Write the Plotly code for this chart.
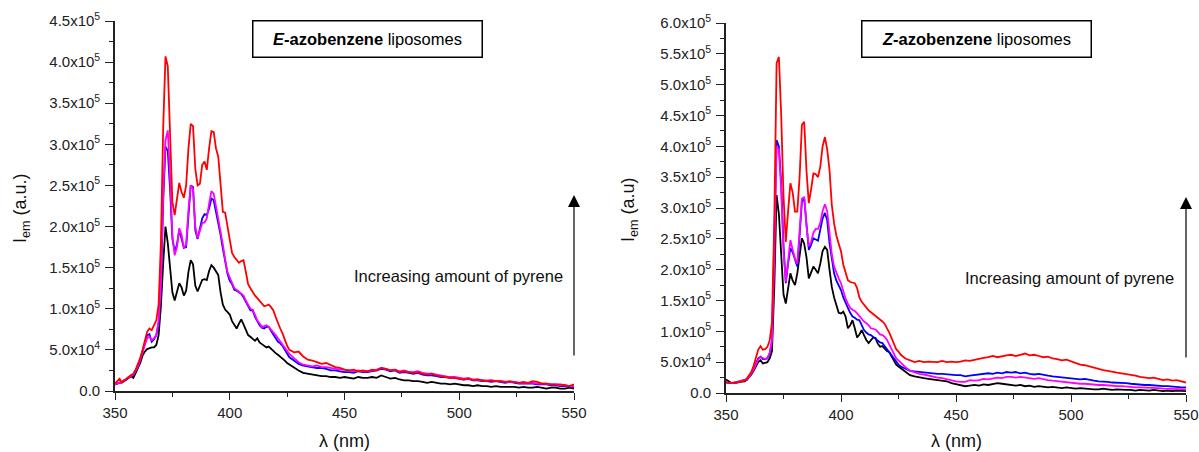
import plotly.graph_objects as go

# Wavelength grid (nm)
WAVE = list(range(350, 427)) + list(range(428, 551, 2))

# ---- E-azobenzene liposomes (values in 1e4 a.u.) ----
E_RED = [0.9, 1.2, 1.5, 1.0, 1.3, 1.5, 1.7, 1.9, 2.1, 2.6, 3.2, 4.0, 5.0, 6.2, 7.2, 7.6, 7.4, 8.0, 8.6, 10.5,
         18.0, 32.0, 40.7, 39.5, 31.0, 23.0, 21.4, 23.5, 25.3, 24.2, 23.5, 25.0, 29.5, 32.5, 32.2, 27.0, 25.0, 25.2, 27.5, 27.9,
         26.9, 29.5, 31.6, 31.5, 29.5, 28.5, 25.0, 21.8, 21.7, 20.0, 18.4, 16.8, 16.3, 15.9, 15.6, 15.8, 15.9, 14.5, 13.0, 12.5,
         12.0, 11.6, 11.3, 11.0, 10.6, 10.3, 10.4, 10.5, 10.2, 9.8, 9.0, 8.2, 7.6, 7.0, 6.2, 5.5, 5.0,
         4.7, 4.8, 4.2, 3.8, 3.7, 3.5, 3.3, 3.4, 3.1, 2.9, 2.8, 2.6, 2.5, 2.6, 2.4, 2.5, 2.4, 2.6, 2.5, 2.8,
         2.7, 2.5, 2.6, 2.3, 2.4, 2.3, 2.2, 2.3, 2.1, 2.0, 2.1, 1.9, 1.8, 1.7, 1.6, 1.6, 1.5, 1.4, 1.5, 1.3,
         1.4, 1.3, 1.2, 1.3, 1.2, 1.2, 1.1, 1.2, 1.1, 1.0, 1.1, 1.0, 1.2, 1.1, 0.9, 0.9, 0.8, 0.8, 0.8, 0.7,
         0.6, 0.8]
E_MAGENTA = [0.8, 0.9, 1.0, 1.1, 1.3, 1.5, 1.7, 1.9, 2.0, 2.5, 3.0, 3.8, 4.8, 5.6, 6.4, 6.6, 6.2, 6.4, 6.8, 8.5,
             13.0, 24.0, 30.5, 31.7, 26.0, 19.0, 16.5, 17.5, 19.8, 19.0, 17.4, 17.8, 22.0, 25.0, 24.6, 20.0, 18.6, 19.5, 20.4, 20.5,
             21.0, 22.8, 24.3, 24.0, 22.5, 21.2, 19.5, 17.8, 16.0, 14.5, 13.8, 13.1, 12.5, 12.3, 12.1, 11.9, 11.6, 11.0, 10.4, 10.0,
             9.9, 9.2, 8.6, 8.2, 7.8, 7.9, 8.0, 7.8, 7.5, 7.2, 6.8, 6.4, 6.0, 5.7, 5.3, 4.9, 4.5,
             4.0, 3.5, 3.2, 3.1, 3.0, 3.1, 2.9, 2.9, 2.8, 2.7, 2.6, 2.6, 2.5, 2.4, 2.5, 2.4, 2.4, 2.5, 2.6, 2.8,
             2.7, 2.5, 2.6, 2.4, 2.5, 2.3, 2.3, 2.4, 2.2, 2.1, 2.1, 2.0, 1.9, 1.8, 1.7, 1.7, 1.6, 1.5, 1.6, 1.4,
             1.4, 1.3, 1.3, 1.3, 1.2, 1.2, 1.1, 1.1, 1.1, 1.0, 1.0, 1.0, 1.0, 0.9, 0.9, 0.9, 0.8, 0.8, 0.7, 0.7,
             0.6, 0.6]
E_BLUE = [0.8, 0.9, 1.0, 1.1, 1.3, 1.4, 1.7, 1.9, 1.9, 2.4, 3.0, 3.9, 5.0, 5.8, 6.8, 6.9, 6.0, 6.3, 6.8, 8.3,
          12.5, 23.0, 29.7, 29.2, 24.5, 18.5, 17.0, 17.8, 19.6, 18.5, 17.4, 17.5, 21.5, 25.0, 24.8, 19.5, 18.5, 19.8, 21.0, 21.5,
          21.4, 22.2, 23.4, 23.2, 21.8, 20.6, 19.0, 17.3, 15.6, 14.3, 13.4, 13.0, 12.3, 12.2, 12.0, 11.8, 11.4, 10.8, 10.2, 9.8,
          9.8, 9.0, 8.5, 8.0, 7.7, 7.6, 7.8, 7.8, 7.3, 6.9, 6.5, 6.0, 5.8, 5.5, 5.0, 4.5, 4.1,
          3.7, 3.3, 3.1, 3.0, 2.9, 2.8, 2.8, 2.7, 2.5, 2.5, 2.4, 2.3, 2.3, 2.2, 2.4, 2.3, 2.3, 2.4, 2.5, 2.7,
          2.6, 2.4, 2.5, 2.2, 2.3, 2.2, 2.1, 2.2, 2.0, 1.9, 1.9, 1.8, 1.7, 1.7, 1.6, 1.6, 1.5, 1.4, 1.5, 1.3,
          1.3, 1.2, 1.2, 1.1, 1.2, 1.1, 1.0, 1.1, 1.0, 0.9, 0.9, 0.9, 0.9, 0.8, 0.8, 0.8, 0.7, 0.7, 0.6, 0.6,
          0.5, 0.5]
E_BLACK = [0.8, 0.9, 1.0, 1.1, 1.2, 1.4, 1.6, 1.8, 1.6, 2.2, 2.8, 3.4, 4.3, 4.8, 5.1, 5.2, 5.3, 5.3, 5.6, 6.8,
           10.3, 15.5, 20.0, 18.0, 15.1, 12.0, 11.0, 12.2, 13.1, 12.6, 11.6, 12.2, 14.5, 15.9, 15.4, 12.8, 12.1, 12.8, 13.5, 13.6,
           13.5, 14.6, 15.3, 15.0, 14.6, 14.1, 12.0, 10.5, 9.9, 9.6, 9.3, 8.5, 8.0, 7.6, 8.2, 8.7, 8.1, 7.4, 6.8, 6.6,
           6.4, 6.1, 6.4, 5.9, 5.7, 5.5, 5.3, 5.4, 5.1, 4.9, 4.6, 4.4, 4.2, 4.0, 3.7, 3.4, 3.2,
           2.9, 2.5, 2.2, 2.1, 2.0, 1.9, 1.8, 1.8, 1.7, 1.7, 1.6, 1.7, 1.6, 1.5, 1.7, 1.6, 1.6, 1.7, 1.6, 1.9,
           1.7, 1.5, 1.6, 1.4, 1.3, 1.3, 1.2, 1.2, 1.1, 1.0, 1.1, 1.0, 0.9, 0.9, 0.8, 0.9, 0.8, 0.7, 0.7, 0.6,
           0.7, 0.6, 0.6, 0.5, 0.6, 0.5, 0.5, 0.5, 0.5, 0.4, 0.5, 0.4, 0.4, 0.5, 0.4, 0.3, 0.4, 0.4, 0.3, 0.3,
           0.4, 0.3]

# ---- Z-azobenzene liposomes (values in 1e4 a.u.) ----
Z_RED = [1.8, 1.7, 1.6, 1.7, 1.7, 1.8, 1.8, 1.9, 2.0, 2.3, 2.8, 3.4, 4.4, 5.8, 7.0, 7.6, 7.0, 7.1, 7.5, 8.5,
         11.5, 28.0, 53.5, 54.5, 45.0, 32.0, 24.5, 29.5, 34.0, 32.5, 29.4, 29.4, 35.0, 43.5, 44.0, 36.0, 30.8, 33.0, 35.6, 35.5,
         35.0, 36.7, 40.0, 41.5, 39.5, 36.2, 30.5, 27.5, 25.5, 24.2, 23.0, 20.8, 19.6, 18.3, 18.0, 17.9, 17.8, 17.0, 15.5, 14.8,
         14.3, 13.8, 13.4, 13.1, 12.8, 12.5, 12.3, 12.0, 11.6, 11.2, 10.6, 9.8, 8.9, 8.0, 7.1, 6.7, 6.2,
         5.6, 5.3, 5.0, 5.2, 5.0, 5.1, 5.1, 5.0, 5.2, 5.0, 5.1, 5.0, 5.1, 5.3, 5.2, 5.4, 5.5, 5.7, 5.8, 6.0,
         5.8, 6.0, 6.1, 6.2, 6.0, 6.2, 6.4, 6.1, 6.2, 6.0, 5.8, 5.9, 5.6, 5.5, 5.3, 5.4, 5.1, 4.8, 4.6, 4.5,
         4.3, 4.0, 3.9, 3.7, 3.6, 3.4, 3.3, 3.2, 3.1, 3.0, 2.8, 2.6, 2.5, 2.4, 2.5, 2.3, 2.1, 2.2, 2.0, 2.1,
         1.9, 1.7]
Z_MAGENTA = [1.7, 1.6, 1.6, 1.6, 1.7, 1.7, 1.8, 1.9, 2.0, 2.2, 2.6, 3.1, 3.8, 4.6, 5.4, 5.8, 5.6, 5.5, 5.7, 6.5,
             8.5, 22.0, 40.0, 39.5, 33.0, 23.0, 18.0, 21.5, 24.8, 23.2, 21.8, 21.0, 26.0, 31.5, 31.8, 27.0, 23.8, 24.5, 26.0, 26.6,
             26.6, 27.6, 29.5, 30.6, 29.5, 25.5, 22.5, 20.5, 19.4, 18.6, 17.8, 16.5, 15.3, 14.5, 13.8, 13.5, 13.3, 12.9, 12.4, 12.0,
             11.6, 11.3, 11.0, 10.5, 10.4, 10.3, 9.9, 9.5, 9.4, 9.1, 8.6, 7.8, 7.0, 6.3, 5.6, 5.3, 4.9,
             4.2, 3.6, 3.3, 3.1, 3.0, 2.8, 2.7, 2.5, 2.4, 2.2, 2.1, 1.9, 1.8, 1.8, 2.1, 2.0, 2.1, 2.3, 2.2, 2.4,
             2.5, 2.4, 2.6, 2.6, 2.5, 2.6, 2.5, 2.4, 2.3, 2.4, 2.2, 2.1, 2.0, 1.9, 1.8, 1.8, 1.7, 1.6, 1.5, 1.5,
             1.4, 1.4, 1.3, 1.3, 1.2, 1.2, 1.1, 1.1, 1.0, 1.0, 0.9, 0.9, 0.9, 0.8, 0.8, 0.8, 0.7, 0.7, 0.7, 0.6,
             0.6, 0.6]
Z_BLUE = [1.7, 1.6, 1.6, 1.6, 1.7, 1.7, 1.8, 1.9, 2.0, 2.2, 2.6, 3.1, 3.9, 4.8, 5.6, 5.9, 5.5, 5.5, 5.6, 6.4,
          8.5, 25.0, 41.0, 40.0, 34.0, 24.0, 17.8, 21.0, 23.5, 22.8, 21.5, 20.5, 25.5, 31.0, 31.6, 27.0, 23.2, 24.0, 25.1, 24.9,
          24.7, 26.5, 28.3, 29.2, 28.0, 24.3, 21.5, 19.4, 18.2, 17.5, 16.7, 15.5, 14.5, 13.8, 13.0, 12.4, 12.2, 11.9, 11.8, 11.0,
          10.2, 9.8, 9.5, 9.4, 9.1, 8.9, 8.5, 8.2, 8.1, 7.6, 7.2, 6.6, 6.0, 5.5, 5.0, 4.6, 4.3,
          3.9, 3.6, 3.5, 3.4, 3.3, 3.3, 3.2, 3.1, 3.1, 3.0, 3.0, 2.9, 2.9, 2.7, 2.8, 2.9, 3.0, 3.1, 3.2, 3.1,
          3.3, 3.2, 3.4, 3.3, 3.4, 3.2, 3.3, 3.1, 3.0, 3.1, 2.9, 2.8, 2.7, 2.6, 2.5, 2.4, 2.4, 2.3, 2.2, 2.3,
          2.1, 2.0, 1.9, 1.9, 1.8, 1.7, 1.7, 1.6, 1.6, 1.5, 1.4, 1.4, 1.3, 1.3, 1.2, 1.2, 1.1, 1.1, 1.0, 1.0,
          0.9, 0.9]
Z_BLACK = [2.2, 1.9, 1.7, 1.6, 1.6, 1.7, 1.8, 1.8, 1.9, 2.1, 2.5, 3.0, 3.6, 4.3, 5.0, 5.3, 4.8, 4.9, 5.0, 5.6,
           6.8, 17.2, 32.1, 29.0, 22.0, 16.0, 14.5, 17.0, 19.4, 18.2, 17.5, 19.4, 22.5, 25.1, 24.2, 22.0, 18.6, 19.5, 20.5, 20.0,
           19.4, 21.0, 23.0, 23.7, 23.2, 20.0, 17.2, 15.5, 14.2, 13.0, 12.9, 13.2, 12.4, 10.5, 11.0, 11.8, 10.5, 9.0, 9.5, 10.2,
           9.4, 8.6, 8.1, 8.5, 9.0, 8.9, 8.0, 7.5, 7.6, 7.2, 6.8, 6.6, 5.9, 5.2, 4.6, 4.3, 4.0,
           3.5, 2.9, 2.7, 2.5, 2.4, 2.3, 2.2, 2.1, 2.1, 1.9, 1.6, 1.4, 1.2, 1.1, 1.2, 1.3, 1.2, 1.4, 1.3, 1.5,
           1.6, 1.5, 1.4, 1.3, 1.2, 1.3, 1.1, 1.2, 1.0, 1.1, 1.0, 0.9, 1.0, 0.9, 0.8, 0.9, 0.8, 0.7, 0.8, 0.7,
           0.7, 0.6, 0.6, 0.7, 0.6, 0.5, 0.6, 0.5, 0.5, 0.5, 0.4, 0.5, 0.4, 0.4, 0.5, 0.4, 0.3, 0.4, 0.3, 0.4,
           0.3, 0.3]

SCALE = 1e4
X_TICKS = [350, 400, 450, 500, 550]
E_YTICKS = [0, 5e4, 1e5, 1.5e5, 2e5, 2.5e5, 3e5, 3.5e5, 4e5, 4.5e5]
E_YLABELS = ["0.0", "5.0x10<sup>4</sup>", "1.0x10<sup>5</sup>", "1.5x10<sup>5</sup>", "2.0x10<sup>5</sup>",
             "2.5x10<sup>5</sup>", "3.0x10<sup>5</sup>", "3.5x10<sup>5</sup>", "4.0x10<sup>5</sup>", "4.5x10<sup>5</sup>"]
Z_YTICKS = [0, 5e4, 1e5, 1.5e5, 2e5, 2.5e5, 3e5, 3.5e5, 4e5, 4.5e5, 5e5, 5.5e5, 6e5]
Z_YLABELS = ["0.0", "5.0x10<sup>4</sup>", "1.0x10<sup>5</sup>", "1.5x10<sup>5</sup>", "2.0x10<sup>5</sup>",
             "2.5x10<sup>5</sup>", "3.0x10<sup>5</sup>", "3.5x10<sup>5</sup>", "4.0x10<sup>5</sup>", "4.5x10<sup>5</sup>",
             "5.0x10<sup>5</sup>", "5.5x10<sup>5</sup>", "6.0x10<sup>5</sup>"]

FONT = "Arial, 'Liberation Sans', sans-serif"
COLORS = {"black": "#000000", "blue": "#0000ff", "magenta": "#ff00ff", "red": "#ff0000"}

fig = go.Figure()
for name, data in [("black", E_BLACK), ("blue", E_BLUE), ("magenta", E_MAGENTA), ("red", E_RED)]:
    fig.add_trace(go.Scatter(x=WAVE, y=[v * SCALE for v in data], mode="lines",
                             line=dict(color=COLORS[name], width=1.8), xaxis="x", yaxis="y",
                             showlegend=False, hoverinfo="skip"))
for name, data in [("black", Z_BLACK), ("blue", Z_BLUE), ("magenta", Z_MAGENTA), ("red", Z_RED)]:
    fig.add_trace(go.Scatter(x=WAVE, y=[v * SCALE for v in data], mode="lines",
                             line=dict(color=COLORS[name], width=1.8), xaxis="x2", yaxis="y2",
                             showlegend=False, hoverinfo="skip"))

W, H = 1199, 452


def px(x):
    return x / W


def py(y):
    return 1 - y / H


def xax(domain, anchor):
    return dict(domain=domain, anchor=anchor, range=[350, 550], tickvals=X_TICKS, automargin=False,
                ticks="outside", ticklen=7, tickwidth=1.3, tickcolor="#222",
                minor=dict(ticks="outside", ticklen=4, tickwidth=1.3, tickcolor="#222", dtick=25, tick0=350),
                showline=True, linecolor="#222", linewidth=1.6, showgrid=False, zeroline=False,
                tickfont=dict(family=FONT, size=15, color="#222"))


def yax(domain, anchor, rng, tv, tt):
    return dict(domain=domain, anchor=anchor, range=rng, tickvals=tv, ticktext=tt, automargin=False,
                ticks="outside", ticklen=8, tickwidth=1.3, tickcolor="#222", ticklabelstandoff=2,
                minor=dict(ticks="outside", ticklen=4, tickwidth=1.3, tickcolor="#222", dtick=2.5e4, tick0=0),
                showline=True, linecolor="#222", linewidth=1.6, showgrid=False, zeroline=False,
                tickfont=dict(family=FONT, size=15, color="#222"))


annotations = []
# Title boxes
for cx, txt in [(367.5, "<b><i>E</i>-azobenzene</b> liposomes"), (976.5, "<b><i>Z</i>-azobenzene</b> liposomes")]:
    annotations.append(dict(text=txt, xref="paper", yref="paper", x=px(cx), y=py(39),
                            xanchor="center", yanchor="middle", showarrow=False,
                            font=dict(family=FONT, size=16.5, color="#000"),
                            bordercolor="#000", borderwidth=1.5, borderpad=0, width=228, height=35,
                            bgcolor="white"))
# Arrows
for xa, head_y in [("x", 195), ("x2", 197)]:
    annotations.append(dict(text="", xref=xa, yref="paper", x=550, y=py(head_y),
                            ax=0, ay=162, axref="pixel", ayref="pixel", showarrow=True,
                            arrowhead=2, arrowsize=2, arrowwidth=1.2, arrowcolor="#000"))
# Arrow labels
for rx, ty in [(565, 276), (1176, 278)]:
    annotations.append(dict(text="Increasing amount of pyrene", xref="paper", yref="paper",
                            x=px(rx), y=py(ty), xanchor="right", yanchor="middle", showarrow=False,
                            font=dict(family=FONT, size=16.5, color="#111")))
# Axis titles
for cx, txt in [(344, "λ (nm)"), (956, "λ (nm)")]:
    annotations.append(dict(text=txt, xref="paper", yref="paper", x=px(cx), y=py(441),
                            xanchor="center", yanchor="middle", showarrow=False,
                            font=dict(family=FONT, size=18, color="#111")))
for cx, cy, txt in [(21, 208, "I<sub>em</sub> (a.u.)"), (630, 210, "I<sub>em</sub> (a.u)")]:
    annotations.append(dict(text=txt, xref="paper", yref="paper", x=px(cx), y=py(cy),
                            xanchor="center", yanchor="middle", showarrow=False, textangle=-90,
                            font=dict(family=FONT, size=18, color="#111")))

fig.update_layout(
    width=W, height=H, margin=dict(l=0, r=0, t=0, b=0, autoexpand=False),
    paper_bgcolor="white", plot_bgcolor="white",
    xaxis=xax([px(115), px(574)], "y"),
    yaxis=yax([py(391), py(21)], "x", [0, 4.5e5], E_YTICKS, E_YLABELS),
    xaxis2=xax([px(726), px(1186)], "y2"),
    yaxis2=yax([py(393), py(23)], "x2", [0, 6e5], Z_YTICKS, Z_YLABELS),
    annotations=annotations,
    showlegend=False,
)

fig.write_html("out.html", config={"displayModeBar": False},
               post_script="document.body.style.margin='0px';document.body.style.overflow='hidden';")
